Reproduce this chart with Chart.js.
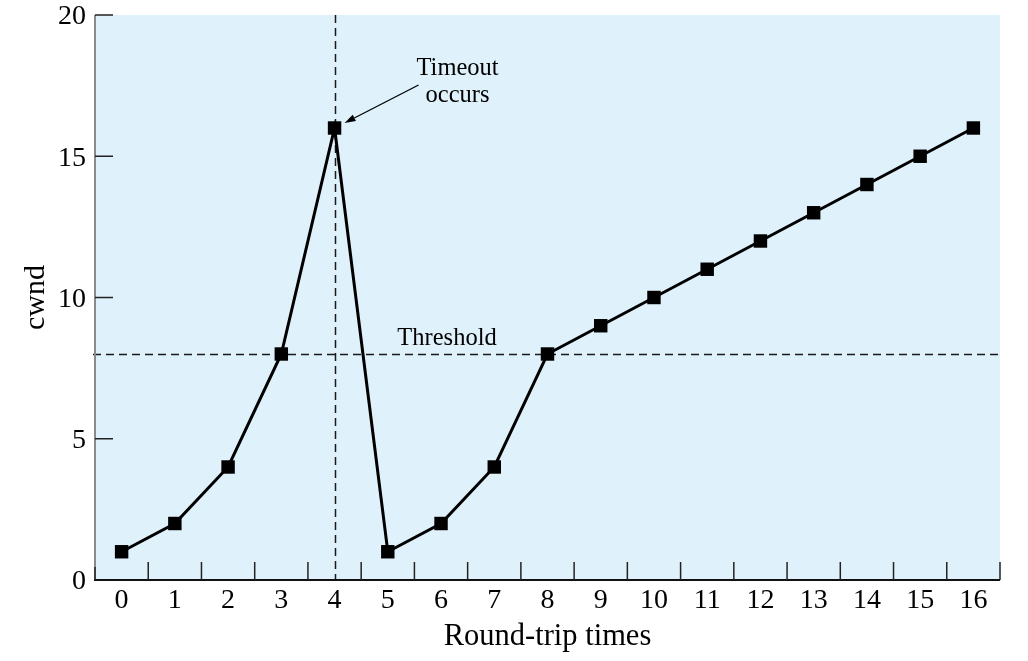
<!DOCTYPE html>
<html><head><meta charset="utf-8">
<script src="https://cdn.jsdelivr.net/npm/chart.js@4/dist/chart.umd.min.js"></script>
<style>html,body{margin:0;padding:0;background:#fff;overflow:hidden;}</style>
</head><body>
<canvas id="c" width="1028" height="661"></canvas>
<script>
// ---- data ----
const rounds = [0,1,2,3,4,5,6,7,8,9,10,11,12,13,14,15,16];
const cwnd   = [1,2,4,8,16,1,2,4,8,9,10,11,12,13,14,15,16];
const xTickValues = [0,1,2,3,4,5,6,7,8,9,10,11,12,13,14,15,16];
const yTickValues = [0,5,10,15,20];
const thresholdValue = 8;
const timeoutRound = 4;
const xTitle = 'Round-trip times';
const yTitle = 'cwnd';
const thresholdLabel = 'Threshold';
const timeoutLabel = ['Timeout', 'occurs'];

const SERIF = "'Liberation Serif', 'Times New Roman', serif";

const deco = {
  id: 'deco',
  beforeDraw(chart) {
    const {ctx, chartArea: a} = chart;
    ctx.save();
    ctx.fillStyle = '#dff1fb';
    ctx.fillRect(a.left, a.top, a.right - a.left, a.bottom - a.top);
    ctx.restore();
  },
  beforeDatasetsDraw(chart) {
    const {ctx, chartArea: a, scales: {x, y}} = chart;
    ctx.save();
    ctx.strokeStyle = '#1a1a1a';
    ctx.lineWidth = 1.5;
    ctx.setLineDash([8, 5]);
    const ty = Math.round(y.getPixelForValue(thresholdValue)) + 0.5;
    ctx.beginPath(); ctx.moveTo(a.left - 2, ty); ctx.lineTo(a.right, ty); ctx.stroke();
    const tx = Math.round(x.getPixelForValue(timeoutRound)) + 0.5;
    ctx.beginPath(); ctx.moveTo(tx, a.top); ctx.lineTo(tx, a.bottom); ctx.stroke();
    ctx.restore();
  },
  afterDatasetsDraw(chart) {
    const {ctx, chartArea: a, scales: {x, y}} = chart;
    ctx.save();
    // axes
    ctx.strokeStyle = '#8a8a8a';
    ctx.lineWidth = 2;
    ctx.beginPath(); ctx.moveTo(a.left, a.top); ctx.lineTo(a.left, a.bottom); ctx.stroke();
    ctx.strokeStyle = '#111';
    ctx.beginPath(); ctx.moveTo(a.left - 1, a.bottom); ctx.lineTo(a.right, a.bottom); ctx.stroke();
    // y tick marks
    ctx.strokeStyle = '#222';
    ctx.lineWidth = 1.5;
    yTickValues.forEach(v => {
      if (v === 0) return;
      const py = y.getPixelForValue(v);
      ctx.beginPath(); ctx.moveTo(a.left, py); ctx.lineTo(a.left + 18, py); ctx.stroke();
    });
    // x tick marks at half positions
    xTickValues.forEach(v => {
      const px = x.getPixelForValue(v + 0.5);
      ctx.beginPath(); ctx.moveTo(px, a.bottom); ctx.lineTo(px, a.bottom - 18); ctx.stroke();
    });
    const p0 = x.getPixelForValue(xTickValues[0] - 0.5);
    ctx.beginPath(); ctx.moveTo(p0, a.bottom); ctx.lineTo(p0, a.bottom - 13); ctx.stroke();

    // Threshold label
    ctx.fillStyle = '#000';
    ctx.font = '24.5px ' + SERIF;
    ctx.textAlign = 'center';
    ctx.textBaseline = 'alphabetic';
    const ty = y.getPixelForValue(thresholdValue);
    ctx.fillText(thresholdLabel, x.getPixelForValue(6) + 6, ty - 9);

    // Timeout annotation
    const px = x.getPixelForValue(timeoutRound);
    const py = y.getPixelForValue(cwnd[rounds.indexOf(timeoutRound)]);
    ctx.fillText(timeoutLabel[0], px + 123, py - 53);
    ctx.fillText(timeoutLabel[1], px + 123, py - 26);
    // arrow
    const hx = px + 10, hy = py - 5, sx = px + 84, sy = py - 43;
    ctx.strokeStyle = '#000';
    ctx.lineWidth = 1.3;
    const ang = Math.atan2(hy - sy, hx - sx);
    const L = 11, W = 3.5;
    const bx = hx - L * Math.cos(ang), by = hy - L * Math.sin(ang);
    ctx.beginPath(); ctx.moveTo(sx, sy); ctx.lineTo(bx, by); ctx.stroke();
    ctx.beginPath();
    ctx.moveTo(hx, hy);
    ctx.lineTo(bx + W * Math.sin(ang), by - W * Math.cos(ang));
    ctx.lineTo(bx - W * Math.sin(ang), by + W * Math.cos(ang));
    ctx.closePath(); ctx.fill();
    ctx.restore();
  }
};

new Chart(document.getElementById('c'), {
  type: 'line',
  data: {
    datasets: [{
      data: rounds.map((r, i) => ({x: r, y: cwnd[i]})),
      borderColor: '#000',
      borderWidth: 3,
      tension: 0,
      pointStyle: 'rect',
      pointRadius: 9.5,
      pointBorderWidth: 0,
      pointBackgroundColor: '#000',
      clip: false
    }]
  },
  options: {
    responsive: false,
    animation: false,
    devicePixelRatio: 1,
    layout: {padding: {top: 15, right: 28, left: 0, bottom: 0}},
    plugins: {legend: {display: false}, tooltip: {enabled: false}},
    scales: {
      x: {
        type: 'linear', position: 'bottom', min: -0.5, max: 16.5,
        grid: {display: false, drawTicks: false},
        border: {display: false},
        afterBuildTicks: s => { s.ticks = xTickValues.map(v => ({value: v})); },
        afterFit: s => { s.height = 81; s.paddingLeft = 0; s.paddingRight = 0; },
        ticks: {padding: 7, color: '#000', font: {family: SERIF, size: 28, lineHeight: 1}, autoSkip: false, maxRotation: 0},
        title: {display: true, text: xTitle, color: '#000', font: {family: SERIF, size: 30.5, lineHeight: 1}, padding: {top: 0, bottom: 9}}
      },
      y: {
        type: 'linear', position: 'left', min: 0, max: 20,
        grid: {display: false, drawTicks: false},
        border: {display: false},
        afterBuildTicks: s => { s.ticks = yTickValues.map(v => ({value: v})); },
        afterFit: s => { s.width = 95; s.paddingTop = 0; s.paddingBottom = 0; },
        ticks: {padding: 9, labelOffset: 2, color: '#000', font: {family: SERIF, size: 28, lineHeight: 1}},
        title: {display: true, text: yTitle, color: '#000', font: {family: SERIF, size: 30, lineHeight: 1}, padding: {top: 21, bottom: 0}}
      }
    }
  },
  plugins: [deco]
});
</script>
</body></html>
